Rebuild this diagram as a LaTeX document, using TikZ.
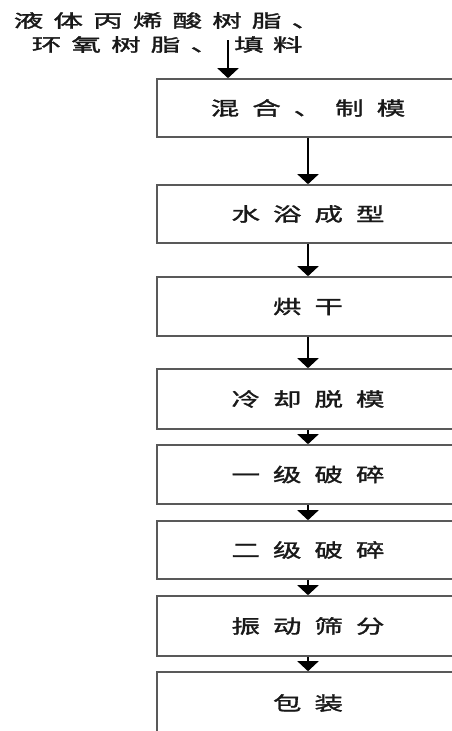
\documentclass[tikz,border=0pt]{standalone}
\usepackage{fontspec}
\usetikzlibrary{arrows.meta}
\newfontfamily\cjkbox[FakeStretch=1.5,FakeBold=1.6]{Noto Sans CJK SC}
\newfontfamily\cjktop[FakeStretch=1.65,FakeBold=1.6]{Noto Sans CJK SC}
\makeatletter
\newcommand\spreadtxt[2]{\def\spsep{}\@tfor\spch:=#2\do{\spsep\spch\def\spsep{\hspace{#1}}}}
\makeatother
\tikzset{
  stepbox/.style={draw=black!65, line width=1.6pt, rectangle, minimum width=302pt, inner sep=0pt,
    font=\cjkbox\fontsize{19}{19}\selectfont, text=black!90},
  flow/.style={draw=black, line width=1.8pt, -{Triangle[width=21pt,length=10pt]}},
  intext/.style={inner sep=0pt, anchor=west, font=\cjktop\fontsize{18}{18}\selectfont, text=black!90}
}
\begin{document}
\begin{tikzpicture}[x=1pt,y=-1pt]
\useasboundingbox (0,0) rectangle (452,731);
\clip (0,0) rectangle (452,731);
\fill[white] (0,0) rectangle (452,731);
\node[intext] (t1) at (13.5,20.5) {\spreadtxt{10pt}{液体丙烯酸树脂、}};
\node[intext] (t2) at (31.5,44.5) {\spreadtxt{10pt}{环氧树脂、}\hspace{14pt}填\hspace{9pt}料};
\node[stepbox, minimum height=58pt] (b1) at (308,108) {\spreadtxt{13pt}{混合、制模}};
\node[stepbox, minimum height=58pt] (b2) at (308,214) {\spreadtxt{13pt}{水浴成型}};
\node[stepbox, minimum height=59pt] (b3) at (308,306.5) {\spreadtxt{13pt}{烘干}};
\node[stepbox, minimum height=60pt] (b4) at (308,399) {\spreadtxt{13pt}{冷却脱模}};
\node[stepbox, minimum height=59pt] (b5) at (308,474.5) {\spreadtxt{13pt}{一级破碎}};
\node[stepbox, minimum height=58pt] (b6) at (308,550) {\spreadtxt{13pt}{二级破碎}};
\node[stepbox, minimum height=60pt] (b7) at (308,626) {\spreadtxt{13pt}{振动筛分}};
\node[stepbox, minimum height=62pt] (b8) at (308,703) {\spreadtxt{13pt}{包装}};
\coordinate (in) at (228,40);
\draw[flow] (in) -- (in |- b1.north);
\draw[flow] (b1) -- (b2);
\draw[flow] (b2) -- (b3);
\draw[flow] (b3) -- (b4);
\draw[flow] (b4) -- (b5);
\draw[flow] (b5) -- (b6);
\draw[flow] (b6) -- (b7);
\draw[flow] (b7) -- (b8);
\end{tikzpicture}
\end{document}
